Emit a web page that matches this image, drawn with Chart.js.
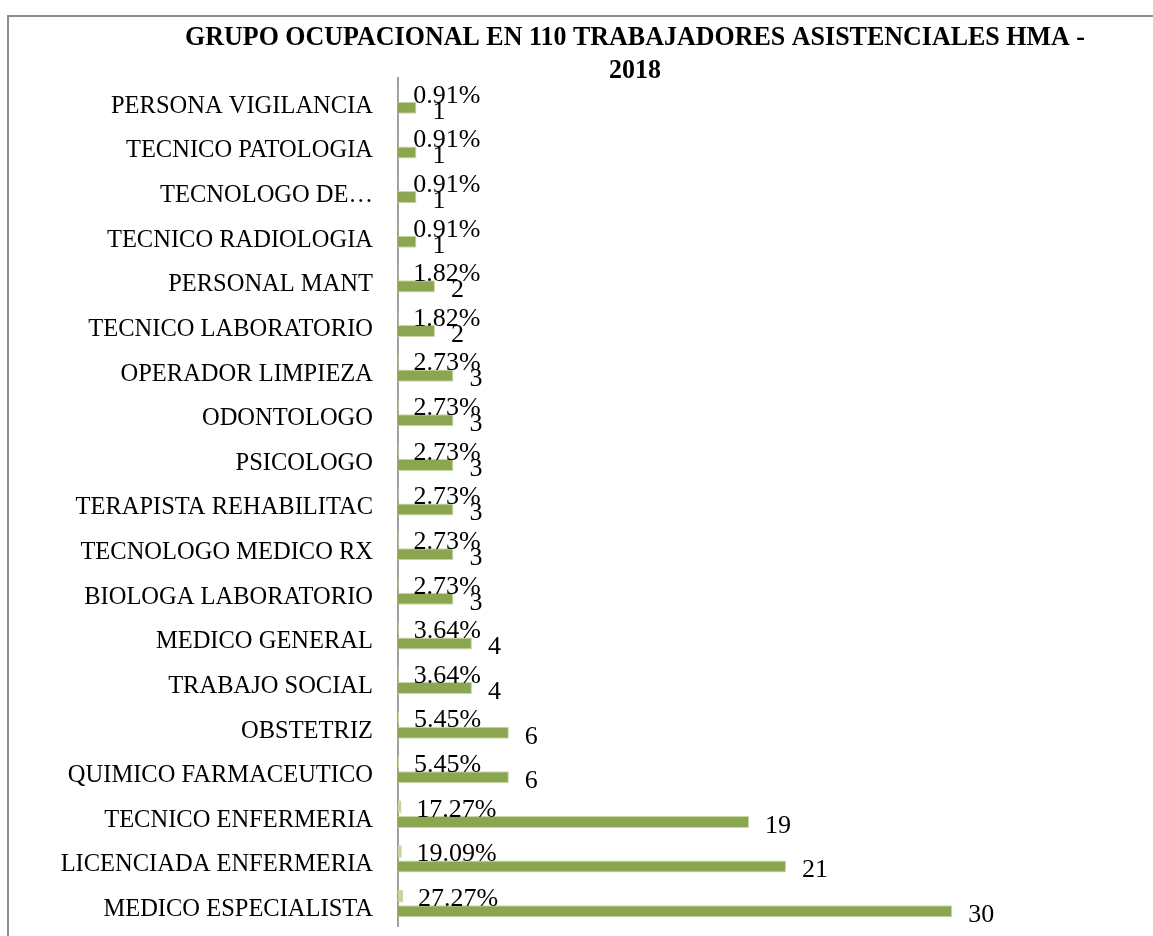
<!DOCTYPE html>
<html>
<head>
<meta charset="utf-8">
<script src="https://cdn.jsdelivr.net/npm/chart.js@4.4.0/dist/chart.umd.min.js"></script>
<style>
  html, body { margin: 0; padding: 0; background: #fff; }
  #wrap { width: 1153px; height: 936px; position: relative; }
</style>
</head>
<body>
<div id="wrap"><canvas id="c" width="1153" height="936"></canvas></div>
<script>
const titleLines = ['GRUPO OCUPACIONAL EN 110 TRABAJADORES ASISTENCIALES HMA -', '2018'];
const categories = [
  'PERSONA VIGILANCIA', 'TECNICO PATOLOGIA', 'TECNOLOGO DE\u2026', 'TECNICO RADIOLOGIA',
  'PERSONAL MANT', 'TECNICO LABORATORIO', 'OPERADOR LIMPIEZA', 'ODONTOLOGO',
  'PSICOLOGO', 'TERAPISTA REHABILITAC', 'TECNOLOGO MEDICO RX', 'BIOLOGA LABORATORIO',
  'MEDICO GENERAL', 'TRABAJO SOCIAL', 'OBSTETRIZ', 'QUIMICO FARMACEUTICO',
  'TECNICO ENFERMERIA', 'LICENCIADA ENFERMERIA', 'MEDICO ESPECIALISTA'
];
const counts = [1, 1, 1, 1, 2, 2, 3, 3, 3, 3, 3, 3, 4, 4, 6, 6, 19, 21, 30];
const percents = [0.0091, 0.0091, 0.0091, 0.0091, 0.0182, 0.0182, 0.0273, 0.0273, 0.0273, 0.0273,
  0.0273, 0.0273, 0.0364, 0.0364, 0.0545, 0.0545, 0.1727, 0.1909, 0.2727];

const SERIF = '"Liberation Serif", "DejaVu Serif", serif';

const framePlugin = {
  id: 'frame',
  beforeDraw(chart) {
    const ctx = chart.ctx;
    ctx.save();
    ctx.fillStyle = '#ffffff';
    ctx.fillRect(0, 0, chart.width, chart.height);
    ctx.strokeStyle = '#8c8c8c';
    ctx.lineWidth = 2;
    ctx.beginPath();
    ctx.moveTo(1153, 16);
    ctx.lineTo(8, 16);
    ctx.lineTo(8, 936);
    ctx.stroke();
    ctx.restore();
  }
};

const titlePlugin = {
  id: 'titleText',
  afterDraw(chart) {
    const ctx = chart.ctx;
    ctx.save();
    ctx.fillStyle = '#000';
    ctx.font = 'bold 27px ' + SERIF;
    ctx.textAlign = 'center';
    ctx.textBaseline = 'alphabetic';
    const w = ctx.measureText(titleLines[0]).width;
    const s = 900 / w;
    ctx.translate(635, 0);
    ctx.scale(s, 1);
    ctx.fillText(titleLines[0], 0, 45);
    ctx.fillText(titleLines[1], 0, 78);
    ctx.restore();
  }
};

const labelPlugin = {
  id: 'barLabels',
  afterDatasetsDraw(chart) {
    const ctx = chart.ctx;
    ctx.save();
    ctx.fillStyle = '#000';
    ctx.font = '26px ' + SERIF;
    ctx.textAlign = 'left';
    ctx.textBaseline = 'middle';
    const mp = chart.getDatasetMeta(0);
    const mc = chart.getDatasetMeta(1);
    mp.data.forEach((bar, i) => {
      ctx.fillText((percents[i] * 100).toFixed(2) + '%', bar.x + 15, bar.y + 3);
    });
    mc.data.forEach((bar, i) => {
      ctx.fillText(String(counts[i]), bar.x + 16, bar.y + 4);
    });
    ctx.restore();
  }
};

new Chart(document.getElementById('c'), {
  type: 'bar',
  data: {
    labels: categories,
    datasets: [
      {
        label: 'Porcentaje',
        data: percents,
        backgroundColor: '#c3d69b',
        borderWidth: 0,
        categoryPercentage: 0.675,
        barPercentage: 0.8
      },
      {
        label: 'Cantidad',
        data: counts,
        backgroundColor: '#8ba650',
        borderColor: '#c9d9a6',
        borderWidth: 1,
        categoryPercentage: 0.675,
        barPercentage: 0.8
      }
    ]
  },
  options: {
    indexAxis: 'y',
    responsive: false,
    animation: false,
    devicePixelRatio: 1,
    layout: { padding: { left: 0, top: 78, right: 16, bottom: 10 } },
    plugins: { legend: { display: false }, tooltip: { enabled: false }, title: { display: false } },
    scales: {
      x: { display: false, min: 0, max: 40 },
      y: {
        afterFit(scale) { scale.width = 398; scale.paddingTop = 0; scale.paddingBottom = 0; },
        grid: { display: false, drawTicks: false },
        border: { display: true, color: '#a0a0a0', width: 2 },
        ticks: {
          color: '#000',
          font: { family: SERIF, size: 24.5 },
          padding: 25,
          labelOffset: 6,
          autoSkip: false
        }
      }
    }
  },
  plugins: [framePlugin, titlePlugin, labelPlugin]
});
</script>
</body>
</html>
